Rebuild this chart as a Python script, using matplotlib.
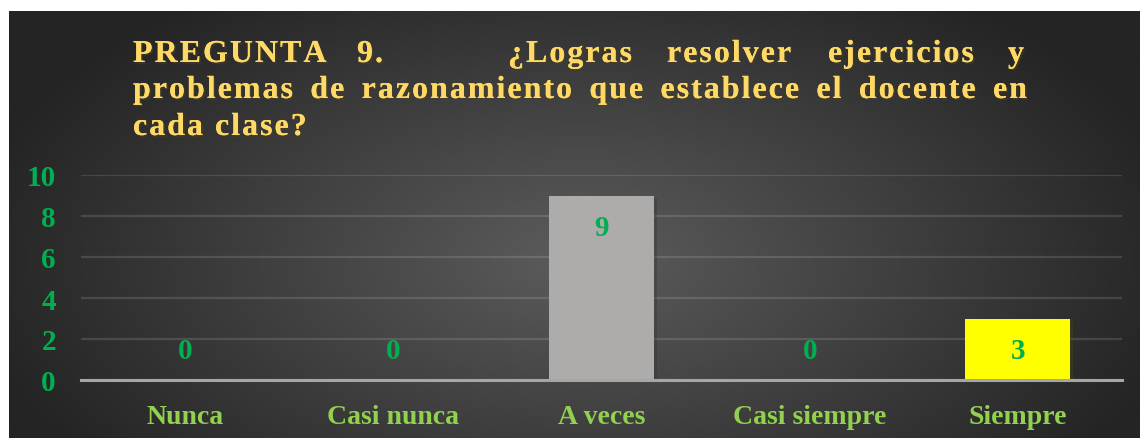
import matplotlib

matplotlib.use("Agg")
import matplotlib.pyplot as plt
import matplotlib.patheffects as pe
import numpy as np
from matplotlib.font_manager import FontProperties, findfont, get_font

categories = ["Nunca", "Casi nunca", "A veces", "Casi siempre", "Siempre"]
values = [0, 0, 9, 0, 3]
bar_colors = ["#AEABAB", "#AEABAB", "#AEABAB", "#AEABAB", "#FFFF00"]
yticks = [0, 2, 4, 6, 8, 10]

title_line1 = ["PREGUNTA", "9.", "¿Logras", "resolver", "ejercicios", "y"]
title_line1_x = [133, 357, 508, 667, 828, 1008]
title_line2 = "problemas de razonamiento que establece el docente en".split()
title_line3 = "cada clase?".split()

W, H, DPI = 1140, 439, 100
SERIF = "Liberation Serif"
TITLE_COLOR = "#FFD966"
TITLE_SIZE = 23
TRACK = 2.0

fig = plt.figure(figsize=(W / DPI, H / DPI), dpi=DPI)
fig.patch.set_facecolor("white")

# radial gradient panel
bg = fig.add_axes([9 / W, 0, (W - 9) / W, (H - 12) / H], zorder=0)
bg.set_axis_off()
xx, yy = np.meshgrid(np.linspace(9, W, 400), np.linspace(12, H, 160))
r = np.sqrt(((xx - 580) / 620) ** 2 + ((yy - 260) / 330) ** 2)
shade = (92 - (92 - 36) * np.clip(r, 0, 1)) / 255
img = np.dstack([shade, shade, shade])
bg.imshow(img, aspect="auto", extent=[0, 1, 0, 1], interpolation="bilinear")

ax = fig.add_axes([81 / W, 58 / H, (1122 - 81) / W, 205 / H], zorder=1)
ax.set_facecolor("none")
x = np.arange(len(categories))
bars = ax.bar(x, values, width=0.505, color=bar_colors, zorder=3,
              path_effects=[pe.withSimplePatchShadow(offset=(2, -2), alpha=0.35)])
ax.set_xlim(-0.5, len(categories) - 0.5)
ax.set_ylim(0, 10)
ax.set_yticks(yticks)
ax.set_xticks(x)
ax.set_xticklabels(categories)
for side in ["top", "right", "left"]:
    ax.spines[side].set_visible(False)
ax.spines["bottom"].set_color("#A6A6A6")
ax.spines["bottom"].set_linewidth(2.2)
ax.spines["bottom"].set_zorder(4)
ax.grid(axis="y", color="white", alpha=0.13, linewidth=1.6, zorder=1)
ax.tick_params(axis="both", length=0)
ax.tick_params(axis="y", pad=18)
ax.tick_params(axis="x", pad=17)
for t in ax.get_yticklabels():
    t.set_fontfamily(SERIF)
    t.set_fontweight("bold")
    t.set_fontsize(21)
    t.set_color("#00B050")
for t in ax.get_xticklabels():
    t.set_fontfamily(SERIF)
    t.set_fontweight("bold")
    t.set_fontsize(20)
    t.set_color("#92D050")

for xi, v in zip(x, values):
    off = -23 if v > 0 else 21
    ax.annotate(str(v), (xi, v), xytext=(0, off), textcoords="offset points",
                ha="center", va="center", fontfamily=SERIF, fontweight="bold",
                fontsize=21, color="#00B050", zorder=5)

# title with letter spacing, drawn char by char using glyph advances
ft = get_font(findfont(FontProperties(family=SERIF, weight="bold")))
ft.set_size(TITLE_SIZE, DPI)
title_kw = dict(fontfamily=SERIF, fontweight="bold", fontsize=TITLE_SIZE, color=TITLE_COLOR,
                transform=None, va="baseline", ha="left", zorder=6,
                path_effects=[pe.withSimplePatchShadow(offset=(1.2, -1.2), alpha=0.55),
                              pe.Normal()])


def char_width(ch):
    g = ft.load_char(ord(ch))
    return g.linearHoriAdvance / 65536


def word_width(word):
    return sum(char_width(c) for c in word) + TRACK * (len(word) - 1)


def draw_word(word, x0, y0):
    xpos = x0
    for c in word:
        fig.text(xpos, y0, c, **title_kw)
        xpos += char_width(c) + TRACK


def draw_line(words, y0, x_left=133, x_right=None, starts=None):
    if starts is not None:
        for w, s in zip(words, starts):
            draw_word(w, s, y0)
        return
    widths = [word_width(w) for w in words]
    if x_right is None:
        gap = char_width(" ") + TRACK * 2
    else:
        gap = (x_right - x_left - sum(widths)) / (len(words) - 1)
    xpos = x_left
    for w, wd in zip(words, widths):
        draw_word(w, xpos, y0)
        xpos += wd + gap


draw_line(title_line1, H - 63, starts=title_line1_x)
draw_line(title_line2, H - 99, x_right=1027)
draw_line(title_line3, H - 136)

fig.savefig("out.png", dpi=DPI)
